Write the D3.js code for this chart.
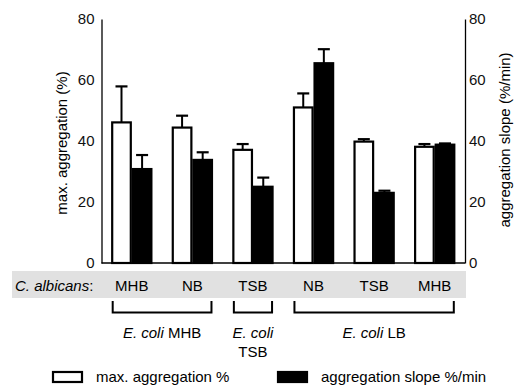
<!DOCTYPE html>
<html>
<head>
<meta charset="utf-8">
<script src="https://cdn.jsdelivr.net/npm/d3@7"></script>
<style>
  body { margin: 0; background: #fff; }
  svg { display: block; font-family: "Liberation Sans", Arial, Helvetica, sans-serif; }
</style>
</head>
<body>
<svg id="chart" width="514" height="387"></svg>
<script>
const albicansMedia = ['MHB', 'NB', 'TSB', 'NB', 'TSB', 'MHB']
const maxAggregation = [46.1, 44.4, 37.1, 51.0, 39.8, 38.1]
const maxAggregationErr = [11.8, 3.9, 1.9, 4.6, 0.8, 0.9]
const aggregationSlope = [30.8, 33.8, 25.0, 65.5, 23.0, 38.8]
const aggregationSlopeErr = [4.6, 2.5, 3.0, 4.6, 0.7, 0.4]
const yTicks = [0, 20, 40, 60, 80]
const ecoliMedia = ['MHB', 'TSB', 'LB']
const ecoliSpans = [[0, 1], [2, 2], [3, 5]]

const svg = d3.select('#chart')
const plotLeft = 101.5, plotRight = 465, plotTop = 19, plotBottom = 263

const x = d3.scaleBand()
  .domain(d3.range(albicansMedia.length))
  .range([plotLeft, plotRight])
  .paddingInner(0.32)
  .paddingOuter(0.16)
const xs = d3.scaleBand().domain(['agg', 'slope']).range([0, x.bandwidth()])
const yL = d3.scaleLinear().domain([0, 80]).range([plotBottom, plotTop])
const yR = d3.scaleLinear().domain([0, 80]).range([plotBottom, plotTop])

// grey strip with C. albicans media
svg.append('rect')
  .attr('x', 12).attr('y', 271).attr('width', 454).attr('height', 27)
  .attr('fill', '#e1e1e1')

svg.append('text')
  .attr('x', 15).attr('y', 291)
  .attr('font-size', 15).attr('font-style', 'italic')
  .text('C. albicans')
  .append('tspan').attr('font-style', 'normal').text(':')

svg.append('g').selectAll('text')
  .data(albicansMedia)
  .join('text')
  .attr('x', (d, i) => x(i) + x.bandwidth() / 2)
  .attr('y', 291)
  .attr('text-anchor', 'middle')
  .attr('font-size', 15)
  .text(d => d)

// axes
const axisL = svg.append('g').attr('transform', `translate(${plotLeft},0)`)
  .call(d3.axisLeft(yL).tickValues(yTicks).tickSize(0).tickPadding(7))
const axisR = svg.append('g').attr('transform', `translate(${plotRight},0)`)
  .call(d3.axisRight(yR).tickValues(yTicks).tickSize(0).tickPadding(4))
for (const a of [axisL, axisR]) {
  a.select('.domain').attr('stroke', '#000').attr('stroke-width', 1.3)
  a.selectAll('text').attr('font-size', 15).attr('font-family', null).attr('fill', '#111')
}

svg.append('line')
  .attr('x1', plotLeft).attr('x2', plotRight).attr('y1', plotBottom).attr('y2', plotBottom)
  .attr('stroke', '#000').attr('stroke-width', 1.5)

svg.append('text')
  .attr('transform', `translate(67,${(plotTop + plotBottom) / 2 + 2}) rotate(-90)`)
  .attr('text-anchor', 'middle').attr('font-size', 15)
  .text('max. aggregation (%)')
svg.append('text')
  .attr('transform', `translate(510,${(plotTop + plotBottom) / 2 - 1}) rotate(-90)`)
  .attr('text-anchor', 'middle').attr('font-size', 15)
  .text('aggregation slope (%/min)')

// bars
const bars = svg.append('g')
const series = [
  { key: 'agg', vals: maxAggregation, errs: maxAggregationErr, y: yL, fill: '#fff' },
  { key: 'slope', vals: aggregationSlope, errs: aggregationSlopeErr, y: yR, fill: '#000' },
]
for (const s of series) {
  const g = bars.append('g')
  const cx = i => x(i) + xs(s.key) + xs.bandwidth() / 2
  // error bars (upward only)
  g.selectAll('line.err')
    .data(s.vals)
    .join('line')
    .attr('class', 'err')
    .attr('x1', (d, i) => cx(i))
    .attr('x2', (d, i) => cx(i))
    .attr('y1', d => s.y(d))
    .attr('y2', (d, i) => s.y(d + s.errs[i]))
    .attr('stroke', '#000').attr('stroke-width', 2)
  g.selectAll('line.cap')
    .data(s.vals)
    .join('line')
    .attr('class', 'cap')
    .attr('x1', (d, i) => cx(i) - 6)
    .attr('x2', (d, i) => cx(i) + 6)
    .attr('y1', (d, i) => s.y(d + s.errs[i]))
    .attr('y2', (d, i) => s.y(d + s.errs[i]))
    .attr('stroke', '#000').attr('stroke-width', 2.2)
  g.selectAll('rect')
    .data(s.vals)
    .join('rect')
    .attr('x', (d, i) => x(i) + xs(s.key) + 1)
    .attr('y', d => s.y(d))
    .attr('width', xs.bandwidth() - 2)
    .attr('height', d => plotBottom - s.y(d))
    .attr('fill', s.fill)
    .attr('stroke', '#000').attr('stroke-width', 2.2)
}

// E. coli brackets
const brTop = 301, brBot = 312.5
const brackets = svg.append('g')
ecoliSpans.forEach(([a, b], k) => {
  const x0 = x(a) + 1.5, x1 = x(b) + x.bandwidth() - 1.5
  brackets.append('path')
    .attr('d', `M${x0},${brTop}V${brBot}H${x1}V${brTop}`)
    .attr('fill', 'none').attr('stroke', '#000').attr('stroke-width', 2)
  const cx = (x0 + x1) / 2
  const t = brackets.append('text')
    .attr('x', cx).attr('y', 338)
    .attr('text-anchor', 'middle').attr('font-size', 15)
  t.append('tspan').attr('font-style', 'italic').text('E. coli')
  if (a === b) {
    t.append('tspan').attr('x', cx).attr('dy', 18.5).text(ecoliMedia[k])
  } else {
    t.append('tspan').text(' ' + ecoliMedia[k])
  }
})

// legend
const legend = svg.append('g')
const legendItems = [
  { label: 'max. aggregation %', fill: '#fff', x: 52 },
  { label: 'aggregation slope %/min', fill: '#000', x: 277 },
]
legendItems.forEach(d => {
  legend.append('rect')
    .attr('x', d.x + 1).attr('y', 372).attr('width', 29).attr('height', 10)
    .attr('fill', d.fill).attr('stroke', '#000').attr('stroke-width', 2.2)
  legend.append('text')
    .attr('x', d.x + 44).attr('y', 382)
    .attr('font-size', 15)
    .text(d.label)
})
</script>
</body>
</html>
